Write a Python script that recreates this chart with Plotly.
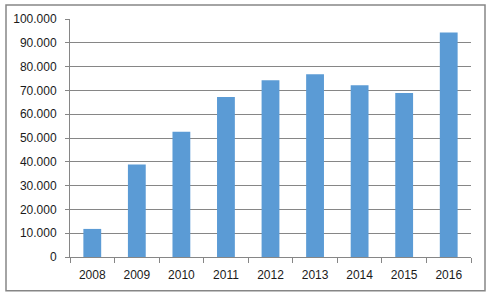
import plotly.graph_objects as go

years = ["2008", "2009", "2010", "2011", "2012", "2013", "2014", "2015", "2016"]
values = [11800, 38900, 52600, 67200, 74300, 76800, 72200, 68900, 94300]

GRAY = "#868686"
fig = go.Figure(go.Bar(x=years, y=values, marker=dict(color="#5B9BD5", line=dict(width=0))))

L, R, T, B = 70, 20, 17, 41
W, H = 491, 298
pw, ph = W - L - R, H - T - B

fig.update_layout(
    width=W, height=H,
    margin=dict(l=L, r=R, t=T, b=B, pad=0),
    paper_bgcolor="white", plot_bgcolor="white",
    bargap=0.6, showlegend=False,
    separators=",.",
    font=dict(family="Liberation Sans, Arial, sans-serif", size=12, color="#1a1a1a"),
    xaxis=dict(type="category", showline=True, linecolor=GRAY, linewidth=1,
               ticks="outside", tickson="boundaries", ticklen=5, tickcolor=GRAY,
               showgrid=False, tickfont=dict(size=12), ticklabelstandoff=7),
    yaxis=dict(range=[0, 100000], dtick=10000, tickformat=",d", showgrid=True,
               gridcolor=GRAY, gridwidth=1, showline=True, linecolor=GRAY, linewidth=1,
               ticks="outside", ticklen=4, tickcolor=GRAY, zeroline=False,
               tickfont=dict(size=12), ticklabelstandoff=6),
    shapes=[dict(type="rect", xref="paper", yref="paper",
                 x0=(6 - L) / pw, x1=(485 - L) / pw,
                 y0=(H - B - 291) / ph, y1=(H - B - 3) / ph,
                 line=dict(color=GRAY, width=1.5), fillcolor="rgba(0,0,0,0)")],
)
fig.write_html("out.html")
